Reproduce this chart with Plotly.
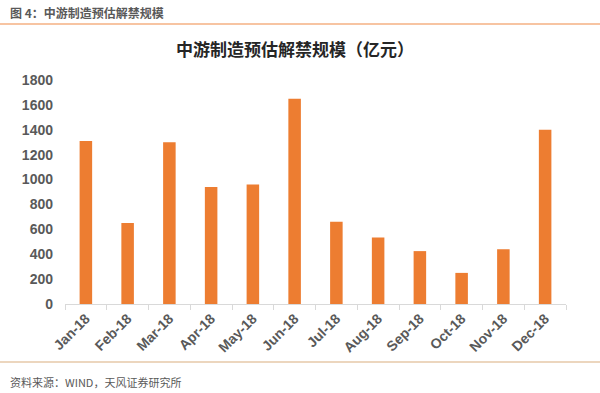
import plotly.graph_objects as go

categories = ["Jan-18", "Feb-18", "Mar-18", "Apr-18", "May-18", "Jun-18",
              "Jul-18", "Aug-18", "Sep-18", "Oct-18", "Nov-18", "Dec-18"]
values = [1310, 650, 1300, 940, 960, 1650, 660, 535, 425, 250, 440, 1400]
y_ticks = [0, 200, 400, 600, 800, 1000, 1200, 1400, 1600, 1800]

W, H = 600, 393
L, R, T, B = 65, 34, 80, 89
pw, ph = W - L - R, H - T - B

def px(x):
    return (x - L) / pw

def py(y):
    return (H - B - y) / ph

fig = go.Figure(go.Bar(
    x=categories, y=values,
    marker=dict(color="#ED7D31", line=dict(width=0)),
    width=0.3,
))

tf = dict(size=14, color="#595959", family="Liberation Sans, Arial", weight="bold")

fig.update_layout(
    width=W, height=H,
    margin=dict(l=L, r=R, t=T, b=B),
    paper_bgcolor="white", plot_bgcolor="white",
    showlegend=False,
    font=dict(family="Liberation Sans, Arial", color="#595959"),
    xaxis=dict(
        showgrid=False, showline=True, linecolor="#D9D9D9", linewidth=1,
        ticks="outside", ticklen=5, tickcolor="#D9D9D9", tickson="boundaries",
        tickangle=-45, tickfont=tf,
    ),
    yaxis=dict(
        range=[0, 1800], tickvals=y_ticks, showgrid=False, zeroline=False,
        showline=False, ticks="", ticklabelstandoff=11,
        tickfont=tf,
    ),
    shapes=[
        dict(type="line", xref="paper", yref="paper", x0=px(0), x1=px(600), y0=py(24), y1=py(24),
             line=dict(color="#F4B183", width=1.5)),
        dict(type="line", xref="paper", yref="paper", x0=px(0), x1=px(600), y0=py(362), y1=py(362),
             line=dict(color="#E6C9A8", width=1.5)),
    ],
    annotations=[
        dict(text="<b>图 4：中游制造预估解禁规模</b>", xref="paper", yref="paper",
             x=px(8), y=py(12), xanchor="left", yanchor="middle", showarrow=False,
             font=dict(size=12, color="#595959", family="Noto Sans CJK SC")),
        dict(text="<b>中游制造预估解禁规模（亿元）</b>", xref="paper", yref="paper",
             x=px(295), y=py(49), xanchor="center", yanchor="middle", showarrow=False,
             font=dict(size=17, color="#262626", family="Noto Sans CJK SC")),
        dict(text="资料来源：WIND，天风证券研究所", xref="paper", yref="paper",
             x=px(8), y=py(382), xanchor="left", yanchor="middle", showarrow=False,
             font=dict(size=11, color="#595959", family="Noto Sans CJK SC")),
    ],
)

fig.write_html("out.html")
